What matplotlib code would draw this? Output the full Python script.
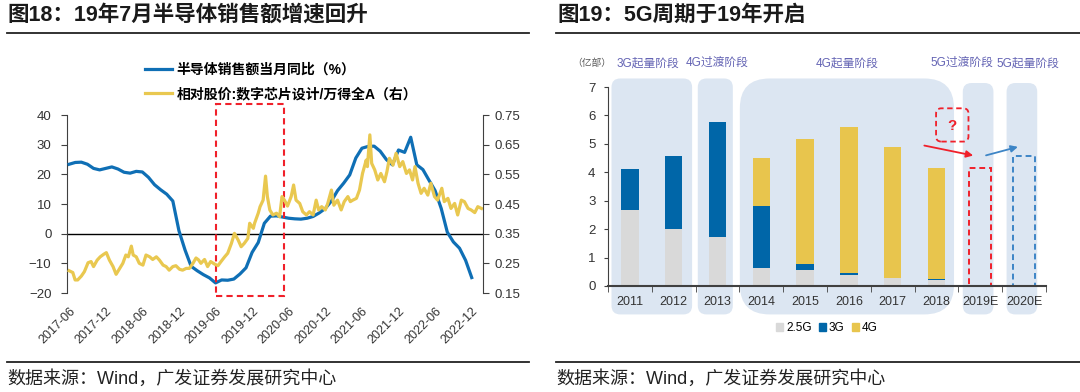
import numpy as np
import matplotlib
matplotlib.use("Agg")
import matplotlib.pyplot as plt
from matplotlib.patches import Rectangle, FancyBboxPatch, Patch
from matplotlib.lines import Line2D

plt.rcParams['font.family'] = ['Liberation Sans', 'Noto Sans CJK SC']

# ---------------- 图18 数据 ----------------
tick_labels = ["2017-06", "2017-12", "2018-06", "2018-12", "2019-06", "2019-12",
               "2020-06", "2020-12", "2021-06", "2021-12", "2022-06", "2022-12"]

# 半导体销售额当月同比(%)，2017-06 ~ 2022-12 按月
semi_yoy = [23.4, 24.0, 24.1, 23.4, 22.0, 21.5, 22.0, 22.5, 21.8, 20.7,
            20.4, 21.0, 20.8, 19.0, 16.5, 14.8, 13.3, 11.0, 1.0, -5.5,
            -11.0, -12.5, -13.8, -14.9, -16.6, -15.6, -15.7, -15.3, -13.6, -11.5,
            -6.3, -3.0, 3.5, 5.9, 6.0, 5.6, 5.2, 5.0, 4.9, 5.2,
            5.8, 7.0, 8.5, 11.0, 14.5, 17.0, 19.8, 25.5, 28.8, 29.4,
            29.5, 27.8, 25.0, 23.2, 28.2, 27.4, 32.5, 23.2, 21.6, 18.0,
            14.5, 8.5, 0.5, -2.8, -4.9, -9.0, -14.8]

# 相对股价：数字芯片设计/万得全A（右轴），时间为距2017-06的月数
stock_t = [0.0, 0.3, 0.6, 0.98, 1.4, 2.0, 2.5, 3.1, 3.6, 4.0, 4.6, 5.1, 5.7, 6.1, 6.6,
           7.2, 7.7, 8.2, 8.8, 9.3, 9.7, 10.2, 10.5, 11.0, 11.5, 12.1, 12.6, 13.2,
           13.7, 14.3, 14.8, 15.4, 15.9, 16.4, 17.0, 17.5, 18.1, 18.6, 19.2, 19.7,
           20.3, 20.8, 21.2, 21.6, 22.2, 22.7, 23.2, 23.8, 24.4, 24.9, 25.5, 26.0,
           26.6, 27.1, 27.7, 28.2, 28.7, 29.3, 29.6, 30.2, 30.4, 31.0, 31.3, 31.8,
           32.2, 32.5, 32.9, 33.4, 34.0, 34.5, 34.9, 35.3, 35.8, 36.4, 36.8, 37.2,
           37.8, 38.3, 38.9, 39.4, 40.0, 40.5, 40.9, 41.4, 42.0, 42.4, 43.0, 43.4,
           44.0, 44.6, 45.1, 45.7, 46.1, 46.5, 47.1, 47.6, 48.1, 48.7, 48.9, 49.3,
           49.6, 50.1, 50.6, 51.1, 51.7, 52.1, 52.5, 53.1, 53.6, 54.2, 54.7, 55.3,
           55.8, 56.3, 56.7, 57.2, 57.7, 58.2, 58.8, 59.3, 59.9, 60.4, 61.1, 61.5,
           62.1, 62.6, 63.2, 63.7, 64.3, 64.8, 65.4, 65.9, 66.5, 67.0, 67.6]
stock_rel = [0.225, 0.222, 0.219, 0.194, 0.194, 0.207, 0.222, 0.252, 0.256, 0.239,
             0.261, 0.272, 0.281, 0.286, 0.261, 0.239, 0.213, 0.230, 0.250, 0.278,
             0.272, 0.308, 0.278, 0.272, 0.250, 0.244, 0.278, 0.272, 0.263, 0.272,
             0.261, 0.244, 0.239, 0.227, 0.239, 0.242, 0.230, 0.227, 0.233, 0.233,
             0.250, 0.268, 0.262, 0.250, 0.263, 0.239, 0.256, 0.248, 0.242, 0.256,
             0.272, 0.284, 0.317, 0.351, 0.329, 0.306, 0.317, 0.334, 0.385, 0.368,
             0.385, 0.419, 0.441, 0.463, 0.544, 0.475, 0.430, 0.413, 0.419, 0.407,
             0.475, 0.463, 0.443, 0.475, 0.514, 0.463, 0.452, 0.424, 0.413, 0.424,
             0.413, 0.463, 0.430, 0.441, 0.430, 0.452, 0.497, 0.446, 0.463, 0.430,
             0.458, 0.475, 0.458, 0.463, 0.469, 0.497, 0.553, 0.598, 0.576, 0.683,
             0.587, 0.565, 0.531, 0.553, 0.525, 0.559, 0.604, 0.581, 0.621, 0.576,
             0.593, 0.553, 0.565, 0.531, 0.576, 0.520, 0.486, 0.503, 0.480, 0.520,
             0.475, 0.463, 0.503, 0.458, 0.469, 0.435, 0.452, 0.413, 0.463, 0.458,
             0.435, 0.430, 0.421, 0.441, 0.435]

highlight_window = (24.1, 35.2)   # 2019-06 ~ 2020-05

# ---------------- 图19 数据 ----------------
years = ["2011", "2012", "2013", "2014", "2015", "2016", "2017", "2018", "2019E", "2020E"]
g25 = [2.68, 2.00, 1.71, 0.62, 0.55, 0.39, 0.29, 0.22, 0, 0]
g3 = [1.44, 2.59, 4.05, 2.18, 0.24, 0.05, 0.00, 0.03, 0, 0]
g4 = [0, 0, 0.02, 1.70, 4.39, 5.17, 4.61, 3.89, 0, 0]
forecast_idx = [8, 9]
forecast_val = [4.14, 4.59]
stages = ["3G起量阶段", "4G过渡阶段", "4G起量阶段", "5G过渡阶段", "5G起量阶段"]
stage_span = [(0, 1), (2, 2), (3, 7), (8, 8), (9, 9)]

BLUE = '#0f6fb5'
YELLOW = '#e9c850'
BAR_BLUE = '#0066a8'
BAR_YELLOW = '#e8c54d'
GREY = '#d9d9d9'
BOX = '#dce6f2'
RED = '#f0202a'
TXT = '#333333'

W, H = 1080, 392
fig = plt.figure(figsize=(W / 100, H / 100), dpi=100)


def fx(px):
    return px / W


def fy(py):
    return 1 - py / H


# 标题、分隔线、数据来源
fig.text(fx(7), fy(15), "图18：19年7月半导体销售额增速回升", fontsize=15.5,
         fontweight='bold', va='center', color='#1a1a1a')
fig.text(fx(557), fy(15), "图19：5G周期于19年开启", fontsize=15.5,
         fontweight='bold', va='center', color='#1a1a1a')
for x0, x1 in [(7, 529), (556, 1080)]:
    fig.add_artist(Line2D([fx(x0), fx(x1)], [fy(33), fy(33)], color='#222222', lw=1.3))
    fig.add_artist(Line2D([fx(x0), fx(x1)], [fy(362), fy(362)], color='#222222', lw=1.3))
fig.text(fx(7), fy(379), "数据来源：Wind，广发证券发展研究中心", fontsize=13,
         va='center', color='#222222')
fig.text(fx(556), fy(379), "数据来源：Wind，广发证券发展研究中心", fontsize=13,
         va='center', color='#222222')

# ---------------- 左图 ----------------
ax = fig.add_axes([fx(66.7), fy(293), fx(416.6), 178 / H])
l1, = ax.plot(range(len(semi_yoy)), semi_yoy, color=BLUE, lw=2.3, zorder=3)
ax.axhline(0, color='black', lw=1, zorder=2)
ax.set_ylim(-20, 40)
ax.set_yticks(range(-20, 41, 10))
ax.set_xlim(-0.4, 67.9)
ax.set_xticks(range(0, 67, 6))
ax.set_xticklabels(tick_labels, rotation=45, ha='right', rotation_mode='anchor')
ax.tick_params(axis='x', length=0, pad=9, labelsize=9, colors=TXT)
ax.tick_params(axis='y', length=4, pad=7, labelsize=9.5, colors=TXT, color='#404040')
for s in ['top', 'right', 'bottom']:
    ax.spines[s].set_visible(False)
ax.spines['left'].set_color('#404040')
ax.patch.set_visible(False)

ax2 = ax.twinx()
l2, = ax2.plot(stock_t, stock_rel, color=YELLOW, lw=2.3)
ax2.set_ylim(0.15, 0.75)
ax2.set_yticks([0.15, 0.25, 0.35, 0.45, 0.55, 0.65, 0.75])
ax2.set_yticklabels(["0.15", "0.25", "0.35", "0.45", "0.55", "0.65", "0.75"])
ax2.tick_params(axis='y', length=4, pad=4, labelsize=9.5, colors=TXT, color='#404040')
for s in ['top', 'left', 'bottom']:
    ax2.spines[s].set_visible(False)
ax2.spines['right'].set_color('#404040')

ax.add_patch(Rectangle((highlight_window[0], -21), highlight_window[1] - highlight_window[0], 64.6,
                       fill=False, ec=RED, lw=1.5, ls=(0, (3, 2)), clip_on=False, zorder=5))

fig.legend([l1, l2], ["半导体销售额当月同比（%）", "相对股价:数字芯片设计/万得全A（右）"],
           loc='upper left', bbox_to_anchor=(fx(132), fy(50)), frameon=False,
           handlelength=2.0, handletextpad=0.3, labelspacing=0.75,
           prop={'weight': 'bold', 'size': 10})

# ---------------- 右图 ----------------
bx = fig.add_axes([fx(608), fy(286), fx(438), 199 / H])
bx.patch.set_visible(False)
x = np.arange(len(years))
b25 = np.array(g25)
b3 = np.array(g3)
b4 = np.array(g4)
bx.bar(x, b25, 0.4, color=GREY, zorder=3)
bx.bar(x, b3, 0.4, bottom=b25, color=BAR_BLUE, zorder=3)
bx.bar(x, b4, 0.4, bottom=b25 + b3, color=BAR_YELLOW, zorder=3)
bx.bar(forecast_idx, forecast_val, 0.5, fill=False, edgecolor=[RED, '#3d85c6'],
       ls=(0, (3, 2)), lw=1.4, zorder=3)

aspect = 43.8 / 28.43
pads = [(0.42, 0.42), (0.45, 0.35), (0.49, 0.4), (0.4, 0.3), (0.4, 0.3)]
tops = [7.3, 7.3, 7.3, 7.14, 7.14]
radius = [0.2, 0.2, 0.68, 0.2, 0.2]
label_x = [0.41, 2.0, 4.96, 7.58, 9.09]
for (a, b), (pl, pr), top, r, name, lx in zip(stage_span, pads, tops, radius, stages, label_x):
    x0, x1 = a - pl, b + pr
    bx.add_patch(FancyBboxPatch((x0, -1.0), x1 - x0, top + 1.0,
                                boxstyle=f"round,pad=0,rounding_size={r}",
                                mutation_aspect=aspect, fc=BOX, ec='none',
                                clip_on=False, zorder=0))
    bx.text(lx, 7.84, name, ha='center', va='center', fontsize=8.5,
            color='#6464b4', clip_on=False)
bx.text(-0.87, 7.84, "（亿部）", ha='center', va='center', fontsize=7, color='#595959')

bx.add_patch(FancyBboxPatch((6.99, 5.08), 0.74, 1.17, boxstyle="round,pad=0,rounding_size=0.12",
                            mutation_aspect=aspect, fill=False, ec=RED, lw=1.3,
                            ls=(0, (3, 2)), zorder=4))
bx.text(7.36, 5.64, "?", color=RED, fontsize=11, fontweight='bold', ha='center', va='center')
bx.annotate("", xy=(7.9, 4.57), xytext=(6.66, 4.96),
            arrowprops=dict(arrowstyle='-|>', color=RED, lw=1.3, mutation_scale=10))
bx.annotate("", xy=(8.92, 4.92), xytext=(8.07, 4.57),
            arrowprops=dict(arrowstyle='-|>', color='#3d85c6', lw=1.3, mutation_scale=10))

bx.set_xlim(-0.5, 9.5)
bx.set_ylim(0, 7)
bx.set_xticks(x)
bx.set_xticklabels(years)
bx.set_xticks(np.arange(-0.5, 10, 1), minor=True)
bx.tick_params(axis='x', which='major', length=0, pad=7, labelsize=9, colors=TXT)
bx.tick_params(axis='x', which='minor', length=4, color='#404040')
bx.set_yticks(range(0, 8))
bx.tick_params(axis='y', length=3, pad=6, labelsize=9.5, colors=TXT, color='#404040')
for s in ['top', 'right']:
    bx.spines[s].set_visible(False)
bx.spines['left'].set_color('#404040')
bx.spines['bottom'].set_color('#404040')
bx.spines['bottom'].set_linewidth(1.5)
bx.spines['bottom'].set_zorder(4)

fig.legend([Patch(color=GREY), Patch(color=BAR_BLUE), Patch(color=BAR_YELLOW)],
           ["2.5G", "3G", "4G"], loc='center', bbox_to_anchor=(fx(827), fy(328)),
           ncol=3, frameon=False, fontsize=8.5, handlelength=0.6, handleheight=0.6,
           handletextpad=0.25, columnspacing=0.6)

fig.savefig("out.png", dpi=100)
